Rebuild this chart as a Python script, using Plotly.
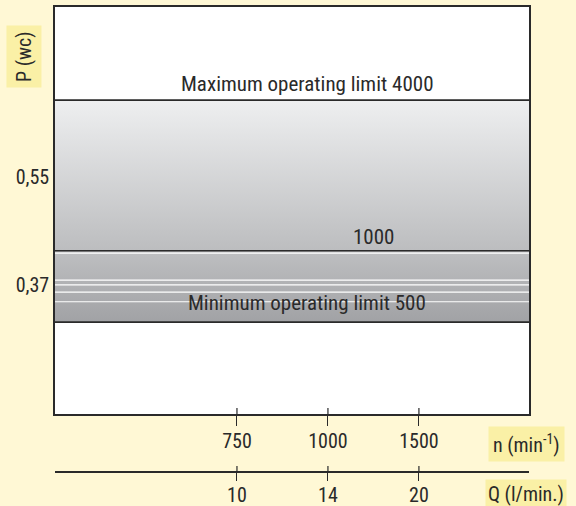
import plotly.graph_objects as go

# operating limits (n in min-1) and the pressure level (wc) of each one
limit_n = [4000, 1000, 500]
limit_p = [0.678, 0.427, 0.308]
limit_text = ["Maximum operating limit 4000", "1000", "Minimum operating limit 500"]
limit_x = [2.78, 3.5, 2.77]

# thin white curves in the lower band
curve_p = [0.423, 0.378, 0.370, 0.358, 0.342]

# axis ticks
n_ticks = ["750", "1000", "1500"]
q_ticks = ["10", "14", "20"]
tick_pos = [2, 3, 4]
p_ticks = [0.37, 0.55]
p_labels = ["0,37", "0,55"]

X_MAX = 5.21
BG = "#FFF8D5"
HL = "#FAF0A6"
INK = "#2a2a2a"
FONT = "Liberation Sans Narrow, Roboto Condensed, Arial Narrow, sans-serif"
Y_DOM0 = 0.1247

fig = go.Figure()

# upper band 4000 -> 1000
fig.add_trace(go.Scatter(
  x=[0, X_MAX, X_MAX, 0, 0],
  y=[limit_p[1], limit_p[1], limit_p[0], limit_p[0], limit_p[1]],
  mode="lines", line_width=0, fill="toself",
  fillgradient=dict(type="vertical",
                    colorscale=[[0, "#BCBDBF"], [1, "#EEEFF0"]]),
  hoverinfo="skip", showlegend=False))
# lower band 1000 -> 500
fig.add_trace(go.Scatter(
  x=[0, X_MAX, X_MAX, 0, 0],
  y=[limit_p[2], limit_p[2], limit_p[1], limit_p[1], limit_p[2]],
  mode="lines", line_width=0, fill="toself",
  fillgradient=dict(type="vertical",
                    colorscale=[[0, "#A1A2A5"], [1, "#BEBFC1"]]),
  hoverinfo="skip", showlegend=False))

for p in curve_p:
  fig.add_trace(go.Scatter(x=[0, X_MAX], y=[p, p], mode="lines",
                           line=dict(color="white", width=1.2),
                           hoverinfo="skip", showlegend=False))

for p in limit_p:
  fig.add_trace(go.Scatter(x=[0, X_MAX], y=[p, p], mode="lines",
                           line=dict(color=INK, width=1.7),
                           hoverinfo="skip", showlegend=False))

fig.add_annotation(x=limit_x[0], y=limit_p[0], text=limit_text[0],
                   showarrow=False, yanchor="bottom", yshift=2)
fig.add_annotation(x=limit_x[1], y=limit_p[1], text=limit_text[1],
                   showarrow=False, yanchor="bottom", yshift=0)
fig.add_annotation(x=limit_x[2], y=curve_p[-1], text=limit_text[2],
                   showarrow=False, yanchor="middle", yshift=-1)

# inside stubs of the crossing ticks
for xp in tick_pos:
  for ya in [Y_DOM0, 0]:
    fig.add_shape(type="line", xref="x", yref="paper", ysizemode="pixel",
                  yanchor=ya, x0=xp, x1=xp, y0=0, y1=6,
                  line=dict(color=INK, width=1.2))

lab = dict(xref="paper", yref="paper", showarrow=False, bgcolor=HL,
           xanchor="center", yanchor="middle", font_size=20)
fig.add_annotation(x=-0.0665, y=0.8935, text="P (wc)", textangle=-90,
                   borderpad=5, **lab)
fig.add_annotation(x=0.9937, y=0.0602, text="n (min<sup>-1</sup>)",
                   borderpad=4, **lab)
fig.add_annotation(x=0.9937, y=-0.047, text="Q (l/min.)",
                   borderpad=2, **lab)

axis_common = dict(showgrid=False, zeroline=False, showline=True,
                   linecolor=INK, linewidth=1.5, tickcolor=INK,
                   tickwidth=1.2, automargin=False,
                   tickfont=dict(size=20, color=INK))

fig.update_layout(
  width=576, height=506,
  margin=dict(l=55, r=47, t=7, b=34, autoexpand=False),
  paper_bgcolor=BG, plot_bgcolor="white",
  font=dict(family=FONT, size=21, color=INK),
  showlegend=False,
  xaxis=dict(range=[0, X_MAX], anchor="y", mirror=True,
             tickvals=tick_pos, ticktext=n_ticks, ticklabelstandoff=-2,
             ticks="outside", ticklen=10, **axis_common),
  xaxis2=dict(range=[0, X_MAX], overlaying="x", anchor="free", position=0,
              side="bottom", tickvals=tick_pos, ticktext=q_ticks,
              ticklabelstandoff=-3, ticks="outside", ticklen=8, **axis_common),
  yaxis=dict(range=[0.155, 0.833], domain=[Y_DOM0, 1], mirror=True,
             tickvals=p_ticks, ticktext=p_labels, ticks="", **axis_common),
)
# make xaxis2 show up
fig.add_trace(go.Scatter(x=[0], y=[0.155], xaxis="x2", mode="markers",
                         marker_opacity=0, hoverinfo="skip", showlegend=False))

fig.write_html("out.html", config={"displayModeBar": False}, post_script=(
  "document.body.style.margin='0';"
  "document.body.style.background='" + BG + "';"))
